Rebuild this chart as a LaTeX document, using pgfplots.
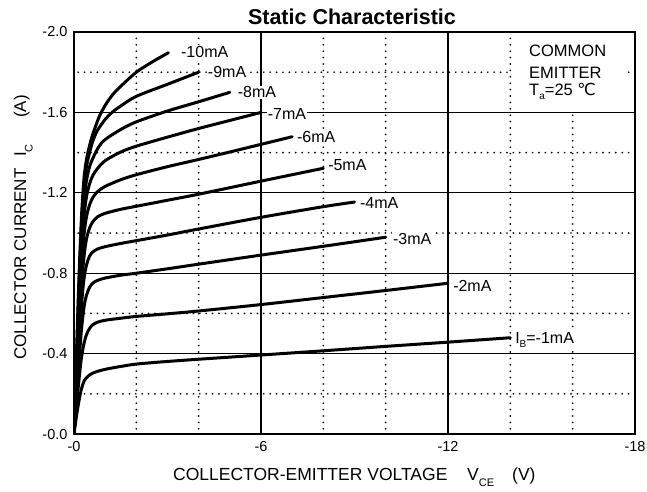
\documentclass[border=0pt]{standalone}
\usepackage{fontspec}
\setmainfont{Liberation Sans}
\newfontfamily\dejavu{DejaVu Sans}
\usepackage{pgfplots}
\pgfplotsset{compat=1.18}
\begin{document}
\begin{tikzpicture}[x=1pt,y=1pt]
\useasboundingbox (0,0) rectangle (647,491);
\begin{axis}[
  at={(74pt,57pt)}, anchor=south west,
  scale only axis, width=561pt, height=402pt,
  xmin=-18, xmax=0, ymin=-2, ymax=0,
  x dir=reverse, y dir=reverse,
  xtick={0,-6,-12,-18}, xticklabels={-0,-6,-12,-18},
  ytick={0,-0.4,-0.8,-1.2,-1.6,-2.0}, yticklabels={-0.0,-0.4,-0.8,-1.2,-1.6,-2.0},
  minor xtick={-2,-4,-8,-10,-14,-16},
  minor ytick={-0.2,-0.6,-1.0,-1.4,-1.8},
  grid=both,
  major grid style={black, line width=1.2pt},
  minor grid style={black, line width=1.9pt, line cap=round, dash pattern=on 0pt off 6.4pt},
  major tick length=0pt, minor tick length=0pt,
  axis line style={black, line width=2.4pt},
  tick label style={font=\fontsize{14.5}{17}\selectfont},
  xticklabel style={yshift=-4pt},
  yticklabel style={xshift=-3pt},
  curve/.style={black, solid, line width=3pt, smooth, tension=0.5, no marks, line join=round, line cap=round},
]
% Ib = -10 mA
\addplot[curve] coordinates {(0,0)(-0.08,-0.40)(-0.16,-0.78)(-0.24,-1.08)(-0.32,-1.27)(-0.4,-1.365)(-0.5,-1.435)(-0.6,-1.49)(-0.8,-1.575)(-1.0,-1.635)(-1.25,-1.69)(-1.5,-1.73)(-2.0,-1.80)(-2.5,-1.85)(-3.03,-1.897)};
% -9 mA
\addplot[curve] coordinates {(0,0)(-0.08,-0.37)(-0.16,-0.73)(-0.24,-1.03)(-0.32,-1.23)(-0.4,-1.33)(-0.5,-1.40)(-0.6,-1.455)(-0.75,-1.51)(-1.0,-1.565)(-1.22,-1.60)(-1.5,-1.632)(-2,-1.68)(-3,-1.74)(-4,-1.80)};
% -8 mA
\addplot[curve] coordinates {(0,0)(-0.08,-0.34)(-0.16,-0.68)(-0.24,-0.97)(-0.32,-1.16)(-0.4,-1.26)(-0.5,-1.33)(-0.63,-1.38)(-0.8,-1.43)(-1.0,-1.465)(-1.5,-1.515)(-2,-1.553)(-3,-1.607)(-4,-1.653)(-5,-1.70)};
% -7 mA
\addplot[curve] coordinates {(0,0)(-0.08,-0.31)(-0.16,-0.62)(-0.24,-0.90)(-0.32,-1.08)(-0.4,-1.18)(-0.5,-1.245)(-0.6,-1.285)(-0.75,-1.32)(-1.0,-1.36)(-1.5,-1.403)(-2,-1.432)(-3,-1.477)(-4,-1.52)(-5,-1.56)(-6,-1.60)};
% -6 mA
\addplot[curve] coordinates {(0,0)(-0.08,-0.28)(-0.16,-0.56)(-0.24,-0.82)(-0.32,-0.99)(-0.4,-1.08)(-0.5,-1.14)(-0.6,-1.175)(-0.75,-1.205)(-1.0,-1.232)(-1.5,-1.265)(-2,-1.29)(-3,-1.33)(-4,-1.366)(-5,-1.403)(-6,-1.441)(-7,-1.479)};
% -5 mA
\addplot[curve] coordinates {(0,0)(-0.08,-0.25)(-0.16,-0.50)(-0.24,-0.73)(-0.32,-0.88)(-0.4,-0.97)(-0.5,-1.025)(-0.6,-1.055)(-0.75,-1.08)(-1.0,-1.098)(-1.5,-1.118)(-2,-1.133)(-3,-1.163)(-4,-1.193)(-6,-1.258)(-8,-1.322)};
% -4 mA
\addplot[curve] coordinates {(0,0)(-0.08,-0.22)(-0.16,-0.44)(-0.24,-0.64)(-0.32,-0.77)(-0.4,-0.84)(-0.5,-0.885)(-0.6,-0.905)(-0.75,-0.92)(-1.0,-0.932)(-1.5,-0.948)(-2,-0.962)(-3,-0.99)(-4,-1.02)(-6,-1.078)(-8,-1.131)(-9,-1.154)};
% -3 mA
\addplot[curve] coordinates {(0,0)(-0.08,-0.18)(-0.16,-0.36)(-0.24,-0.52)(-0.32,-0.63)(-0.4,-0.69)(-0.5,-0.73)(-0.6,-0.75)(-0.75,-0.764)(-1.0,-0.776)(-1.5,-0.79)(-2,-0.80)(-3,-0.822)(-4,-0.845)(-6,-0.89)(-8,-0.934)(-10,-0.979)};
% -2 mA
\addplot[curve] coordinates {(0,0)(-0.08,-0.14)(-0.16,-0.27)(-0.24,-0.38)(-0.32,-0.45)(-0.4,-0.494)(-0.5,-0.525)(-0.6,-0.543)(-0.75,-0.556)(-1.0,-0.566)(-1.5,-0.576)(-2,-0.585)(-3,-0.598)(-4,-0.612)(-6,-0.644)(-8,-0.679)(-10,-0.714)(-12,-0.75)};
% -1 mA
\addplot[curve] coordinates {(0,0)(-0.08,-0.09)(-0.16,-0.165)(-0.24,-0.225)(-0.32,-0.262)(-0.4,-0.28)(-0.5,-0.294)(-0.65,-0.306)(-0.85,-0.316)(-1.1,-0.325)(-1.5,-0.336)(-2,-0.348)(-3,-0.361)(-4,-0.372)(-6,-0.393)(-8,-0.414)(-10,-0.436)(-12,-0.457)(-14,-0.479)};

\begin{scope}[every node/.style={anchor=west, fill=white, inner sep=1pt, font=\fontsize{16}{19}\selectfont}]
\node at (axis cs:-3.40,-1.90) {-10mA};
\node at (axis cs:-4.26,-1.80) {-9mA};
\node at (axis cs:-5.22,-1.70) {-8mA};
\node at (axis cs:-6.18,-1.592) {-7mA};
\node at (axis cs:-7.12,-1.479) {-6mA};
\node at (axis cs:-8.12,-1.338) {-5mA};
\node at (axis cs:-9.14,-1.149) {-4mA};
\node at (axis cs:-10.20,-0.970) {-3mA};
\node at (axis cs:-12.13,-0.736) {-2mA};
\node at (axis cs:-14.12,-0.468) {I\raisebox{-4.5pt}{\fontsize{10}{10}\selectfont B}=-1mA};
\end{scope}

\fill[white] (axis cs:-14.05,-1.99) rectangle (axis cs:-17.78,-1.612);
\begin{scope}[every node/.style={anchor=west, inner sep=0pt, font=\fontsize{16.5}{19}\selectfont}]
\node at (axis cs:-14.6,-1.907) {COMMON};
\node at (axis cs:-14.6,-1.798) {EMITTER};
\node at (axis cs:-14.6,-1.703) {T\raisebox{-4pt}{\fontsize{10}{10}\selectfont a}=25 {\dejavu ℃}};
\end{scope}
\end{axis}

\node[anchor=base, inner sep=0pt, font=\bfseries\fontsize{21.5}{25}\selectfont] at (352,466.5) {Static Characteristic};

\node[anchor=base west, inner sep=0pt, font=\fontsize{17.5}{20}\selectfont] at (173,11) {COLLECTOR-EMITTER VOLTAGE};
\node[anchor=base west, inner sep=0pt, font=\fontsize{17.5}{20}\selectfont] at (467,11) {V\raisebox{-6.5pt}{\fontsize{11}{11}\selectfont CE}};
\node[anchor=base west, inner sep=0pt, font=\fontsize{17.5}{20}\selectfont] at (512,11) {(V)};

\node[rotate=90, anchor=base west, inner sep=0pt, font=\fontsize{17}{20}\selectfont] at (26,131) {COLLECTOR CURRENT};
\node[rotate=90, anchor=base west, inner sep=0pt, font=\fontsize{17}{20}\selectfont] at (26,334) {I\raisebox{-6.5pt}{\fontsize{11}{11}\selectfont C}};
\node[rotate=90, anchor=base west, inner sep=0pt, font=\fontsize{17}{20}\selectfont] at (26,373) {(A)};
\end{tikzpicture}
\end{document}
